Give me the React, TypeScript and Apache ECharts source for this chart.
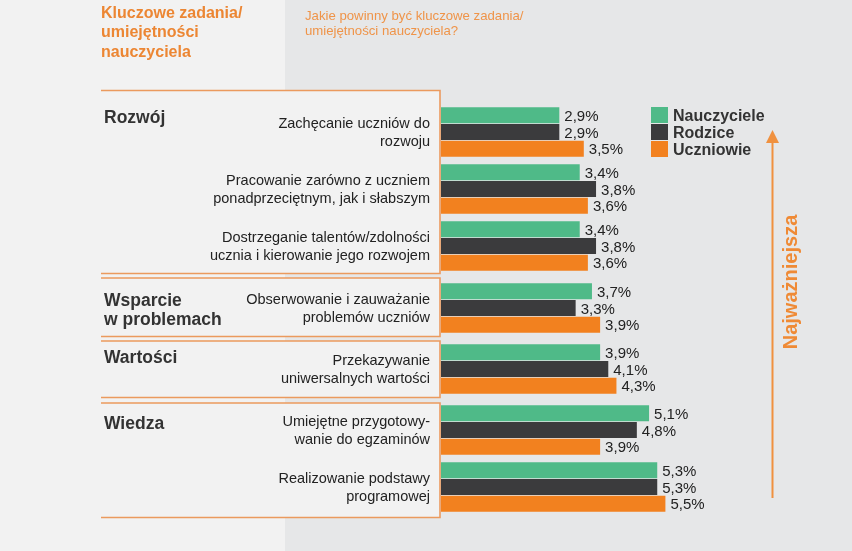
import React, { useEffect, useRef } from "react";
import * as echarts from "echarts";

const seriesNames = ["Nauczyciele", "Rodzice", "Uczniowie"];
const seriesColors = ["#4fba88", "#3b3b3d", "#f2811f"];

const sections = ["Rozwój", "Wsparcie\nw problemach", "Wartości", "Wiedza"];
const tasks = [
  "Zachęcanie uczniów do\nrozwoju",
  "Pracowanie zarówno z uczniem\nponadprzeciętnym, jak i słabszym",
  "Dostrzeganie talentów/zdolności\nucznia i kierowanie jego rozwojem",
  "Obserwowanie i zauważanie\nproblemów uczniów",
  "Przekazywanie\nuniwersalnych wartości",
  "Umiejętne przygotowy-\nwanie do egzaminów",
  "Realizowanie podstawy\nprogramowej",
];
const taskSection = [0, 0, 0, 1, 2, 3, 3];

const nauczyciele = [2.9, 3.4, 3.4, 3.7, 3.9, 5.1, 5.3];
const rodzice = [2.9, 3.8, 3.8, 3.3, 4.1, 4.8, 5.3];
const uczniowie = [3.5, 3.6, 3.6, 3.9, 4.3, 3.9, 5.5];

const titleText = "Kluczowe zadania/\numiejętności\nnauczyciela";
const subtitleText = "Jakie powinny być kluczowe zadania/\numiejętności nauczyciela?";
const arrowText = "Najważniejsza";

const FONT = "'Liberation Sans', Arial, Helvetica, sans-serif";

// layout (pixels)
const gridTops = [103.5, 279.5, 340.5, 401.5];
const boxes = [
  [90.5, 273.5],
  [278, 336.5],
  [341, 397.5],
  [403, 517.5],
];
const sectionLabelY = [117, 309.5, 357, 423];
const PITCH = 57;

export default function App() {
  const ref = useRef<HTMLDivElement>(null);

  useEffect(() => {
    document.body.style.margin = "0";
    const chart = echarts.init(ref.current!, null, { renderer: "svg" });
    const allValues = [nauczyciele, rodzice, uczniowie];

    const grids: any[] = [];
    const xAxes: any[] = [];
    const yAxes: any[] = [];
    const series: any[] = [];

    sections.forEach((_, si) => {
      const idx = taskSection
        .map((s, i) => (s === si ? i : -1))
        .filter((i) => i >= 0);
      grids.push({
        left: 441,
        width: 408,
        top: gridTops[si],
        height: idx.length * PITCH,
      });
      xAxes.push({
        gridIndex: si,
        type: "value",
        min: 0,
        max: 10,
        show: false,
      });
      yAxes.push({
        gridIndex: si,
        type: "category",
        inverse: true,
        data: idx.map((i) => tasks[i]),
        axisLine: { show: false },
        axisTick: { show: false },
        splitLine: { show: false },
        axisLabel: {
          margin: 11,
          fontSize: 14.5,
          lineHeight: 17.5,
          color: "#222",
          fontFamily: FONT,
          padding: [0, 0, 4, 0],
        },
      });
      seriesNames.forEach((name, k) => {
        series.push({
          name,
          type: "bar",
          xAxisIndex: si,
          yAxisIndex: si,
          data: idx.map((i) => allValues[k][i]),
          barWidth: 16,
          barGap: "5%",
          itemStyle: { color: seriesColors[k] },
          label: {
            show: true,
            position: "right",
            distance: 5,
            fontSize: 15,
            color: "#222",
            fontFamily: FONT,
            formatter: (p: any) => String(p.value).replace(".", ",") + "%",
          },
        });
      });
    });

    const graphic: any[] = [
      { type: "rect", z: -10, shape: { x: 0, y: 0, width: 285, height: 551 }, style: { fill: "#f2f2f2" } },
      { type: "rect", z: -10, shape: { x: 285, y: 0, width: 567, height: 551 }, style: { fill: "#e6e7e8" } },
    ];
    boxes.forEach(([t, b]) => {
      graphic.push({
        type: "rect",
        z: -5,
        shape: { x: 101, y: t, width: 339, height: b - t },
        style: { fill: "#f2f2f2" },
      });
      graphic.push({
        type: "polyline",
        z: -4,
        shape: { points: [[101, t], [440, t], [440, b], [101, b]] },
        style: { stroke: "#eb9a5e", lineWidth: 1.6, fill: null },
      });
    });
    sections.forEach((s, i) => {
      graphic.push({
        type: "text",
        x: 104,
        y: sectionLabelY[i],
        style: {
          text: s,
          fill: "#333",
          font: `bold 17.5px ${FONT}`,
          lineHeight: 19,
          verticalAlign: "middle",
          align: "left",
        },
      });
    });
    graphic.push({
      type: "text",
      x: 101,
      y: 2.5,
      style: {
        text: titleText,
        fill: "#ec8633",
        font: `bold 16px ${FONT}`,
        lineHeight: 19.5,
        verticalAlign: "top",
      },
    });
    graphic.push({
      type: "text",
      x: 305,
      y: 7.5,
      style: {
        text: subtitleText,
        fill: "#ef9449",
        font: `13.2px ${FONT}`,
        lineHeight: 15,
        verticalAlign: "top",
      },
    });
    graphic.push({
      type: "line",
      shape: { x1: 772.5, y1: 498, x2: 772.5, y2: 140 },
      style: { stroke: "#f0913f", lineWidth: 2 },
    });
    graphic.push({
      type: "polygon",
      shape: { points: [[766, 143], [779, 143], [772.5, 130]] },
      style: { fill: "#f0913f" },
    });
    graphic.push({
      type: "text",
      x: 790,
      y: 282,
      rotation: Math.PI / 2,
      style: {
        text: arrowText,
        fill: "#ef8a35",
        font: `bold 20px ${FONT}`,
        align: "center",
        verticalAlign: "middle",
      },
    });

    chart.setOption({
      animation: false,
      backgroundColor: "transparent",
      grid: grids,
      xAxis: xAxes,
      yAxis: yAxes,
      series,
      legend: {
        data: seriesNames,
        orient: "vertical",
        left: 651,
        top: 107,
        itemWidth: 17,
        itemHeight: 16,
        itemGap: 1,
        icon: "rect",
        padding: 0,
        textStyle: {
          fontSize: 16,
          fontWeight: "bold",
          color: "#333",
          fontFamily: FONT,
          lineHeight: 16,
        },
      },
      graphic,
    });

    return () => chart.dispose();
  }, []);

  return (
    <div
      ref={ref}
      style={{ position: "fixed", left: 0, top: 0, width: 852, height: 551 }}
    />
  );
}
